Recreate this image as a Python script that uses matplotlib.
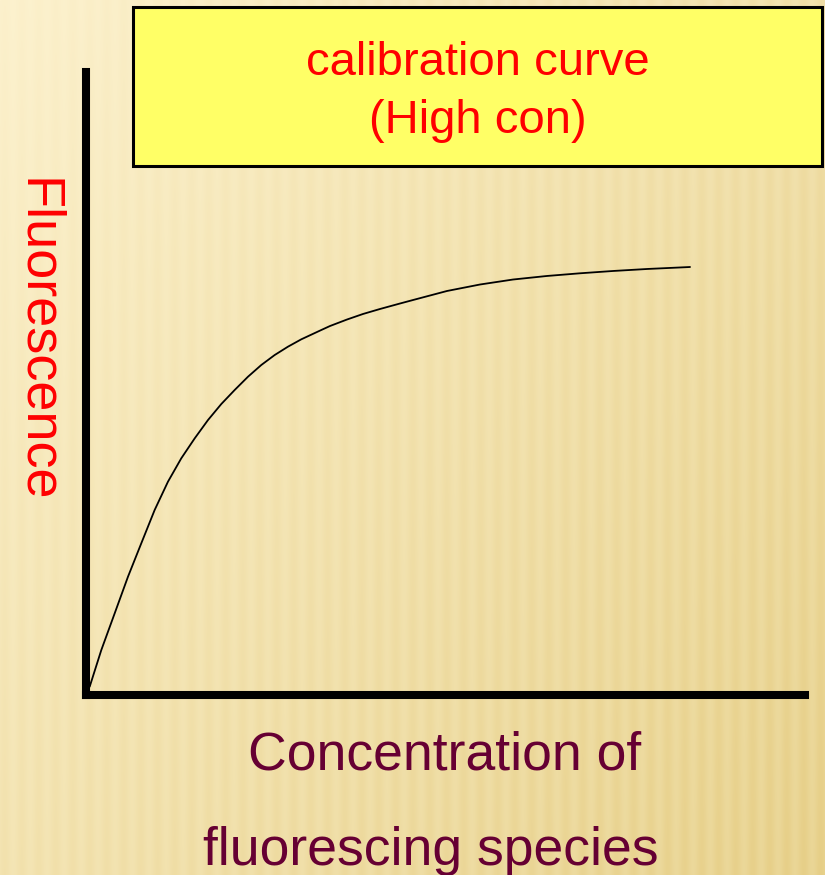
import numpy as np
import matplotlib
matplotlib.use("Agg")
import matplotlib.pyplot as plt
from matplotlib.patches import Rectangle

plt.rcParams['font.family'] = ['Liberation Sans', 'DejaVu Sans']

# Data (arbitrary units, 0-100 scale on both axes)
concentration = [0.51, 2.13, 3.99, 5.84, 7.69, 9.55, 11.40, 13.25, 15.12, 16.97,
                 18.82, 20.68, 22.53, 24.38, 26.24, 28.09, 29.94, 32.73, 33.94,
                 36.30, 38.53, 40.89, 43.67, 45.48, 50.21, 54.80, 59.39, 64.12,
                 68.71, 73.30, 78.03, 84.01]
fluorescence = [1.33, 7.22, 13.11, 18.99, 24.35, 29.70, 34.24, 37.99, 41.20, 44.14,
                46.71, 48.96, 51.09, 52.97, 54.57, 55.91, 57.09, 58.59, 59.23,
                60.27, 61.16, 61.96, 62.84, 63.40, 64.85, 65.89, 66.69, 67.26,
                67.69, 68.06, 68.38, 68.70]

title_lines = ["calibration curve", "(High con)"]
ylabel = "Fluorescence"
xlabel_lines = ["Concentration of", "fluorescing species"]

W, H = 825, 875
fig = plt.figure(figsize=(W / 100, H / 100), dpi=100)

# background gradient with soft vertical stripes
bg = fig.add_axes([0, 0, 1, 1])
xx, yy = np.meshgrid(np.linspace(0, 1, W), np.linspace(0, 1, H))
t = np.clip(0.55 * xx + 0.45 * yy, 0, 1)
c0 = np.array([252, 241, 205]) / 255.0
c1 = np.array([232, 210, 142]) / 255.0
img = c0[None, None, :] * (1 - t[..., None]) + c1[None, None, :] * t[..., None]
stripe = 0.018 * np.sin(2 * np.pi * np.arange(W) / 17.0)[None, :] * (0.3 + t)
img = np.clip(img - stripe[..., None] * np.array([0.3, 0.6, 1.2])[None, None, :], 0, 1)
bg.imshow(img, extent=[0, 1, 0, 1], aspect='auto', origin='upper')
bg.set_axis_off()

# main axes
ax = fig.add_axes([86 / W, (H - 695) / H, 719 / W, 623 / H])
ax.patch.set_alpha(0)
ax.plot(concentration, fluorescence, color='black', lw=1.3,
        solid_joinstyle='round', solid_capstyle='round')
ax.set_xlim(0, 100)
ax.set_ylim(0, 100)
for s in ['top', 'right']:
    ax.spines[s].set_visible(False)
for s in ['left', 'bottom']:
    ax.spines[s].set_linewidth(5.8)
    ax.spines[s].set_color('black')
    ax.spines[s].set_capstyle('projecting')
ax.set_xticks([])
ax.set_yticks([])

# title box
fig.patches.append(Rectangle((133 / W, (H - 166) / H), (822 - 133) / W, 159 / H,
                             transform=fig.transFigure, facecolor='#FFFF66',
                             edgecolor='black', linewidth=2.2, zorder=5))
fig.text(478 / W, (H - 75) / H, title_lines[0], color='#FF0000', fontsize=34,
         ha='center', va='baseline', zorder=6)
fig.text(478 / W, (H - 133) / H, title_lines[1], color='#FF0000', fontsize=34,
         ha='center', va='baseline', zorder=6)

# y label (reads top to bottom)
fig.text(23 / W, (H - 340) / H, ylabel, color='#FF0000', fontsize=39,
         rotation=-90, ha='center', va='baseline', rotation_mode='anchor')

# x label
fig.text(445 / W, (H - 769) / H, xlabel_lines[0], color='#660033', fontsize=38.5,
         ha='center', va='baseline')
fig.text(431 / W, (H - 865) / H, xlabel_lines[1], color='#660033', fontsize=38.5,
         ha='center', va='baseline')

fig.savefig('out.png', dpi=100)
